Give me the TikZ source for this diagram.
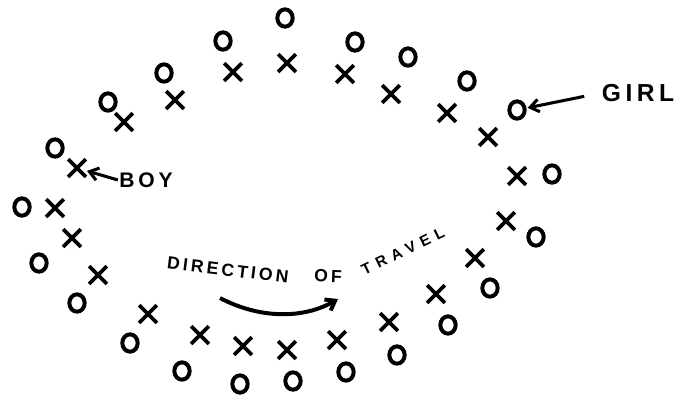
\documentclass[tikz,border=0pt]{standalone}
\usepackage{fontspec}
\setmainfont{Liberation Sans}
\newfontfamily\handfont[LetterSpace=18]{Liberation Sans}
\newfontfamily\wideface[LetterSpace=40]{Liberation Sans}
\usetikzlibrary{shapes.geometric,shapes.misc,arrows.meta}
\tikzset{
  girl/.style={draw, ellipse, line width=3.4pt, minimum width=4.6mm, minimum height=5.2mm, inner sep=0pt},
  boy/.style={draw, cross out, line width=3.2pt, minimum size=4.2mm, inner sep=0pt},
  tag/.style={inner sep=1pt, font=\handfont\bfseries\fontsize{18}{20}\selectfont},
  travelword/.style={inner sep=0pt, font=\handfont\bfseries\fontsize{15}{17}\selectfont},
  pointer/.style={-{Straight Barb[length=2.6mm,width=3.8mm]}, line width=2.6pt},
}
\begin{document}
\begin{tikzpicture}[x=0.3mm,y=-0.3mm]
\useasboundingbox (0,0) rectangle (683,401);
% outer ring: girls
\foreach \x/\y [count=\i] in {285/18,355/42,408/57,467/81,517/110,552/174,536/237,490/288,448/325,397/355,346/372,293/381,240/384,182/371,130/343,77/303,39/263,22/207,55/148,108/102,164/73,223/41}
  \node[girl] (g\i) at (\x,\y) {};
% inner ring: boys
\foreach \x/\y [count=\i] in {287/63,345/74,391/94,447/113,488/137,517/176,506/221,475/258,436/294,389/322,337/340,287/350,243/346,200/335,148/314,98/275,72/238,55/208,77/168,124/122,175/100,233/72}
  \node[boy] (b\i) at (\x,\y) {};
% labels
\node[tag] (boylbl) at (146,180) {BOY};
\node[tag, font=\handfont\bfseries\fontsize{21}{23}\selectfont] (girllbl) at (638,93) {GIRL};
\draw[pointer, shorten >=1pt] (boylbl.west) -- (b19);
\draw[pointer, shorten <=5mm, shorten >=1pt] (girllbl.west) -- (g5);
% direction of travel
\node[travelword, rotate=-7] (dirword) at (228,270) {DIRECTION};
\node[travelword, rotate=-2] (ofword) at (328,276) {OF};
\node[travelword, font=\wideface\bfseries\fontsize{13}{15}\selectfont, rotate=26] (trvword) at (403,251) {TRAVEL};
\coordinate (turnA) at (220,298);
\coordinate (turnB) at (338,299);
\draw[pointer, line width=3.4pt] (turnA) .. controls (262,320) and (305,318) .. (turnB);
\end{tikzpicture}
\end{document}
